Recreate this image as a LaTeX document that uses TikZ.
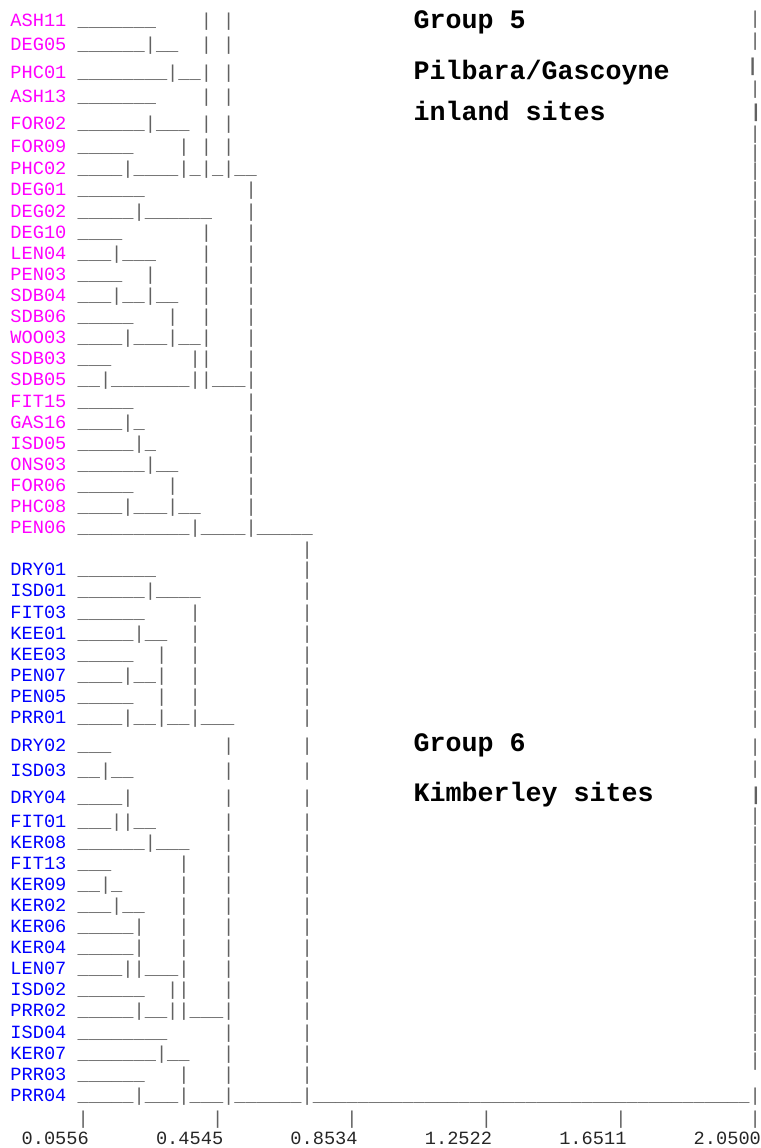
\documentclass[tikz,border=0pt]{standalone}
\usepackage{fontspec}
\newfontfamily\monofont{Liberation Mono}
\definecolor{sitemag}{RGB}{255,0,255}
\definecolor{siteblue}{RGB}{0,0,255}
\definecolor{inkgray}{gray}{0.38}
\definecolor{axisink}{gray}{0.15}
% underscores are typed literally in the dendrogram rows
\catcode`\_=12
\newcommand\pg[1]{\textcolor{sitemag}{#1}}
\newcommand\kb[1]{\textcolor{siteblue}{#1}}
\tikzset{
  row/.style={anchor=base west, inner sep=0pt, outer sep=0pt, text=inkgray,
    font=\monofont\fontsize{14pt}{16pt}\selectfont},
  rowbold/.style={row, font=\monofont\bfseries\fontsize{14pt}{16pt}\selectfont},
  axisrow/.style={row, text=axisink},
  grouptext/.style={anchor=base west, inner sep=0pt, outer sep=0pt, text=black,
    font=\monofont\bfseries\fontsize{20pt}{24pt}\selectfont},
}
\begin{document}
\begin{tikzpicture}[x=0.75pt,y=-0.75pt]
\useasboundingbox (0,0) rectangle (760,1148);
\def\xo{10.4}
% Group 5: Pilbara/Gascoyne inland sites
\node[row] (r1)  at (\xo,26.3)  {\pg{ASH11}~_______~~~~|~|};
\node[row] (r2)  at (\xo,50.7)  {\pg{DEG05}~______|__~~|~|};
\node[row] (r3)  at (\xo,78.3)  {\pg{PHC01}~________|__|~|};
\node[row] (r4)  at (\xo,102.7) {\pg{ASH13}~_______~~~~|~|};
\node[row] (r5)  at (\xo,129.3) {\pg{FOR02}~______|___~|~|};
\node[row] (r6)  at (\xo,152.7) {\pg{FOR09}~_____~~~~|~|~|};
\node[row] (r7)  at (\xo,175)   {\pg{PHC02}~____|____|_|_|__};
\node[row] (r8)  at (\xo,196)   {\pg{DEG01}~______~~~~~~~~~|};
\node[row] (r9)  at (\xo,217.1) {\pg{DEG02}~_____|______~~~|};
\node[row] (r10) at (\xo,238.2) {\pg{DEG10}~____~~~~~~~|~~~|};
\node[row] (r11) at (\xo,259.3) {\pg{LEN04}~___|___~~~~|~~~|};
\node[row] (r12) at (\xo,280.4) {\pg{PEN03}~____~~|~~~~|~~~|};
\node[row] (r13) at (\xo,301.5) {\pg{SDB04}~___|__|__~~|~~~|};
\node[row] (r14) at (\xo,322.6) {\pg{SDB06}~_____~~~|~~|~~~|};
\node[row] (r15) at (\xo,343.7) {\pg{WOO03}~____|___|__|~~~|};
\node[row] (r16) at (\xo,364.8) {\pg{SDB03}~___~~~~~~~||~~~|};
\node[row] (r17) at (\xo,385.9) {\pg{SDB05}~__|_______||___|};
\node[row] (r18) at (\xo,407)   {\pg{FIT15}~_____~~~~~~~~~~|};
\node[row] (r19) at (\xo,428.1) {\pg{GAS16}~____|_~~~~~~~~~|};
\node[row] (r20) at (\xo,449.2) {\pg{ISD05}~_____|_~~~~~~~~|};
\node[row] (r21) at (\xo,470.3) {\pg{ONS03}~______|__~~~~~~|};
\node[row] (r22) at (\xo,491.4) {\pg{FOR06}~_____~~~|~~~~~~|};
\node[row] (r23) at (\xo,512.5) {\pg{PHC08}~____|___|__~~~~|};
\node[row] (r24) at (\xo,533.6) {\pg{PEN06}~__________|____|_____};
\node[row] (r25) at ({\xo+26*11.2},555) {|};
% Group 6: Kimberley sites
\node[row] (r26) at (\xo,575.8) {\kb{DRY01}~_______~~~~~~~~~~~~~|};
\node[row] (r27) at (\xo,596.9) {\kb{ISD01}~______|____~~~~~~~~~|};
\node[row] (r28) at (\xo,618)   {\kb{FIT03}~______~~~~|~~~~~~~~~|};
\node[row] (r29) at (\xo,639.1) {\kb{KEE01}~_____|__~~|~~~~~~~~~|};
\node[row] (r30) at (\xo,660.2) {\kb{KEE03}~_____~~|~~|~~~~~~~~~|};
\node[row] (r31) at (\xo,681.3) {\kb{PEN07}~____|__|~~|~~~~~~~~~|};
\node[row] (r32) at (\xo,702.4) {\kb{PEN05}~_____~~|~~|~~~~~~~~~|};
\node[row] (r33) at (\xo,723.8) {\kb{PRR01}~____|__|__|___~~~~~~|};
\node[row] (r34) at (\xo,751.2) {\kb{DRY02}~___~~~~~~~~~~|~~~~~~|};
\node[row] (r35) at (\xo,776.5) {\kb{ISD03}~__|__~~~~~~~~|~~~~~~|};
\node[row] (r36) at (\xo,803)   {\kb{DRY04}~____|~~~~~~~~|~~~~~~|};
\node[row] (r37) at (\xo,827)   {\kb{FIT01}~___||__~~~~~~|~~~~~~|};
\node[row] (r38) at (\xo,848.1) {\kb{KER08}~______|___~~~|~~~~~~|};
\node[row] (r39) at (\xo,869.2) {\kb{FIT13}~___~~~~~~|~~~|~~~~~~|};
\node[row] (r40) at (\xo,890.3) {\kb{KER09}~__|_~~~~~|~~~|~~~~~~|};
\node[row] (r41) at (\xo,911.4) {\kb{KER02}~___|__~~~|~~~|~~~~~~|};
\node[row] (r42) at (\xo,932.5) {\kb{KER06}~_____|~~~|~~~|~~~~~~|};
\node[row] (r43) at (\xo,953.6) {\kb{KER04}~_____|~~~|~~~|~~~~~~|};
\node[row] (r44) at (\xo,974.7) {\kb{LEN07}~____||___|~~~|~~~~~~|};
\node[row] (r45) at (\xo,995.8) {\kb{ISD02}~______~~||~~~|~~~~~~|};
\node[row] (r46) at (\xo,1016.9){\kb{PRR02}~_____|__||___|~~~~~~|};
\node[row] (r47) at (\xo,1038)  {\kb{ISD04}~________~~~~~|~~~~~~|};
\node[row] (r48) at (\xo,1059.1){\kb{KER07}~_______|__~~~|~~~~~~|};
\node[row] (r49) at (\xo,1080.2){\kb{PRR03}~______~~~|~~~|~~~~~~|};
\node[row] (r50) at (\xo,1101.3){\kb{PRR04}~_____|___|___|______|_______________________________________|};
% distance scale
\node[row] (ticks) at (\xo,1124.3) {~~~~~~|~~~~~~~~~~~|~~~~~~~~~~~|~~~~~~~~~~~|~~~~~~~~~~~|~~~~~~~~~~~|};
\node[axisrow] (scale) at (\xo,1144.3) {~0.0556~~~~~~0.4545~~~~~~0.8534~~~~~~1.2522~~~~~~1.6511~~~~~~2.0500};
% group captions
\node[grouptext] (g5a) at (413.5,28.3)  {Group 5};
\node[grouptext] (g5b) at (413.5,80)    {Pilbara/Gascoyne};
\node[grouptext] (g5c) at (413.5,120.7) {inland sites};
\node[grouptext] (g6a) at (413.5,751.7) {Group 6};
\node[grouptext] (g6b) at (413.5,801.7) {Kimberley sites};
% right-hand root line
\foreach \y [count=\i] in {24.3,46.3,94.3,724.3,752.3,774.3}
  \node[row] (rbt\i) at (749.6,\y) {|};
\foreach \k in {0,...,30}
  \node[row] (rbm\k) at (749.6,{139.3+18.83*\k}) {|};
\foreach \k in {0,...,13}
  \node[row] (rbl\k) at (749.6,{821.3+18.87*\k}) {|};
\node[rowbold] (rbb1) at (747.2,71.3)  {|};
\node[rowbold] (rbb2) at (750.4,117.3) {|};
\node[rowbold] (rbb3) at (750.4,800.3) {|};
\end{tikzpicture}
\end{document}
